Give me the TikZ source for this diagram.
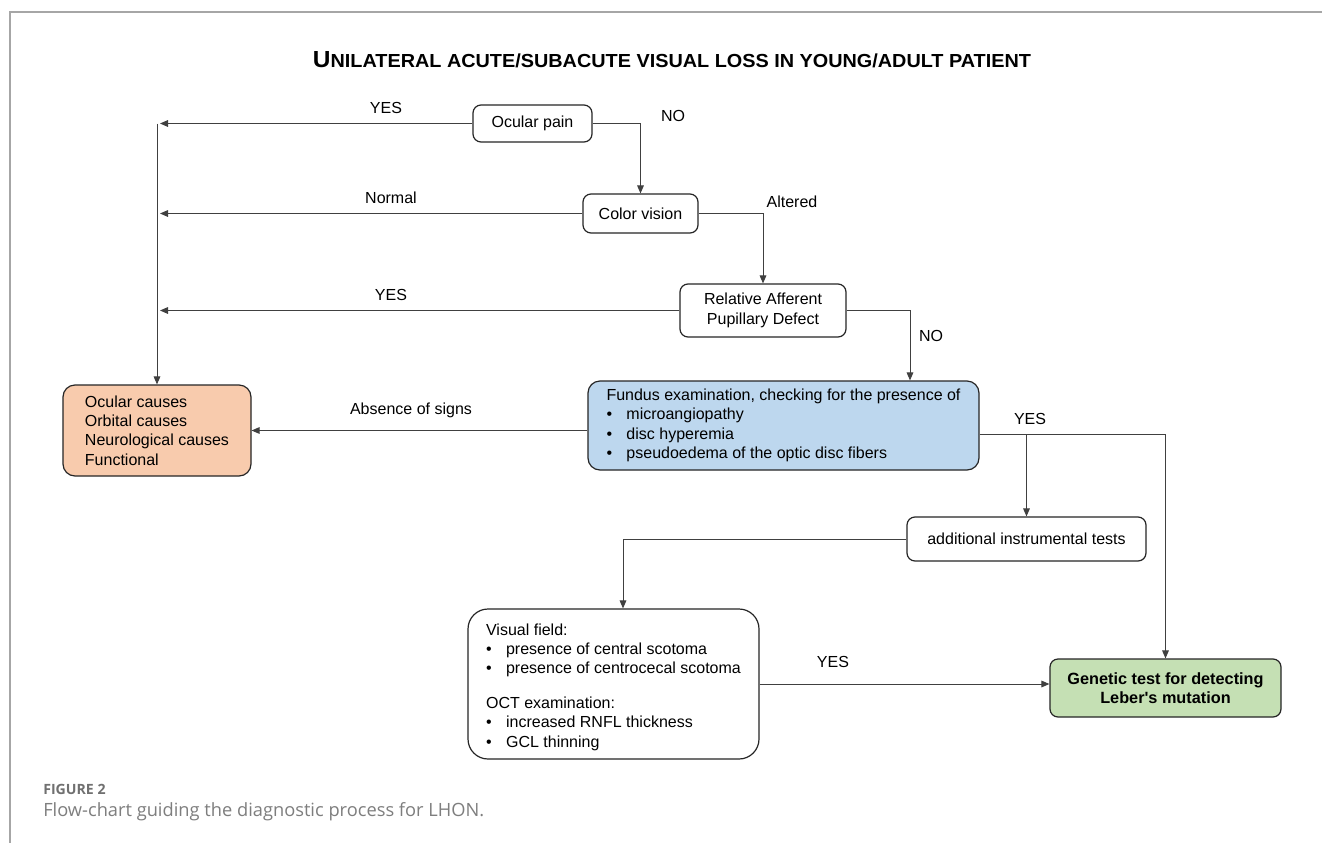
\documentclass[tikz,border=0pt]{standalone}
\usepackage{fontspec}
\setmainfont{Liberation Sans}
\newfontfamily\capfont{Open Sans}
\usetikzlibrary{arrows.meta}
\definecolor{peach}{HTML}{F8CBAD}
\definecolor{lblue}{HTML}{BDD7EE}
\definecolor{lgreen}{HTML}{C5E0B4}
\definecolor{framegray}{HTML}{A6A6A6}
\definecolor{capgray}{HTML}{707070}
\definecolor{linegray}{HTML}{404040}
\newcommand{\bul}{\makebox[15pt][l]{\textbullet}}
\begin{document}
\begin{tikzpicture}[x=0.75pt,y=-0.75pt,
  box/.style={draw=black!85, line width=0.9pt, rounded corners=6pt, fill=white,
    font=\fontsize{12}{14.6}\selectfont, inner sep=0pt, align=center},
  listbox/.style={box, align=left},
  conn/.style={draw=linegray, line width=0.75pt},
  arr/.style={conn, -{Triangle[length=6pt,width=5pt]}},
  lbl/.style={font=\fontsize{12}{13}\selectfont, inner sep=0pt}]

\path[use as bounding box, fill=white] (0,0) rectangle (1322,843);
\draw[framegray, line width=1.1pt] (1322,12) -- (10,12) -- (10,843);

% title
\node[inner sep=0pt, font=\bfseries] (title) at (672,60)
  {\resizebox{538.5pt}{12pt}{{\fontsize{17}{17}\selectfont U}{\fontsize{13.8}{14}\selectfont NILATERAL ACUTE/SUBACUTE VISUAL LOSS IN YOUNG/ADULT PATIENT}}};

% nodes
\node[box, minimum width=89.25pt, minimum height=27.75pt] (pain) at (532.5,123.5) {Ocular pain};
\node[box, minimum width=86.25pt, minimum height=29.25pt] (color) at (640.5,213.5) {Color vision};
\node[box, minimum width=124.5pt, minimum height=39.75pt] (rapd) at (763,310.5) {Relative Afferent\\Pupillary Defect};
\node[listbox, fill=peach, rounded corners=9pt, minimum width=141pt, minimum height=68.25pt] (causes) at (157,430.5)
  {Ocular causes\\Orbital causes\\Neurological causes\\Functional};
\node[listbox, fill=lblue, rounded corners=9pt, minimum width=293.25pt, minimum height=66.75pt] (fundus) at (783.5,425.5)
  {Fundus examination, checking for the presence of\\
   \bul microangiopathy\\
   \bul disc hyperemia\\
   \bul pseudoedema of the optic disc fibers};
\node[box, minimum width=179.25pt, minimum height=33pt] (add) at (1026.5,539) {additional instrumental tests};
\node[listbox, rounded corners=15pt, minimum width=218.25pt, minimum height=112.5pt] (vf) at (613.5,684)
  {\rule{0pt}{13pt}Visual field:\\
   \bul presence of central scotoma\\
   \bul presence of centrocecal scotoma\\[11pt]
   OCT examination:\\
   \bul increased RNFL thickness\\
   \bul GCL thinning};
\node[box, fill=lgreen, font=\fontsize{12.2}{14.6}\selectfont\bfseries, minimum width=173.25pt, minimum height=43.5pt] (gen) at (1165.5,688)
  {Genetic test for detecting\\Leber\textquotesingle s mutation};

% free ends / bend points
\coordinate (t1) at (160,123.5);
\coordinate (t2) at (160,213.5);
\coordinate (t3) at (160,310.5);
\coordinate (ttop) at (157,123.5);
\coordinate (fx) at (910,0);
\coordinate (fy) at (0,434);
\coordinate (vfx) at (623,0);

% connectors
\draw[arr] (pain.west) -- (t1);
\draw[arr] (ttop) -- (causes.north);
\draw[arr] (pain.east) -| (color.north);
\draw[arr] (color.west) -- (t2);
\draw[arr] (color.east) -| (rapd.north);
\draw[arr] (rapd.west) -- (t3);
\draw[arr] (rapd.east) -| (fx |- fundus.north);
\draw[arr] (causes.east -| fundus.west) -- (causes.east);
\draw[arr] (fy -| fundus.east) -| (gen.north);
\draw[arr] (fy -| add.north) -- (add.north);
\draw[arr] (add.west) -| (vfx |- vf.north);
\draw[arr] (vf.east) -- (vf.east -| gen.west);

% labels
\node[lbl] (l1) at (386,108) {YES};
\node[lbl] (l2) at (673,116) {NO};
\node[lbl] (l3) at (391,198) {Normal};
\node[lbl] (l4) at (792,202) {Altered};
\node[lbl] (l5) at (391,295) {YES};
\node[lbl] (l6) at (931,336) {NO};
\node[lbl] (l7) at (411,410) {Absence of signs};
\node[lbl] (l8) at (1030,419) {YES};
\node[lbl] (l9) at (833,662) {YES};

% caption
\node[anchor=west, inner sep=0pt, text=capgray, font=\capfont\bfseries\fontsize{10.6}{12}\selectfont] (fig) at (43,789) {FIGURE 2};
\node[anchor=west, inner sep=0pt, text=capgray!90, font=\capfont\fontsize{13.7}{15}\selectfont] (cap) at (43,812) {Flow-chart guiding the diagnostic process for LHON.};
\end{tikzpicture}
\end{document}
